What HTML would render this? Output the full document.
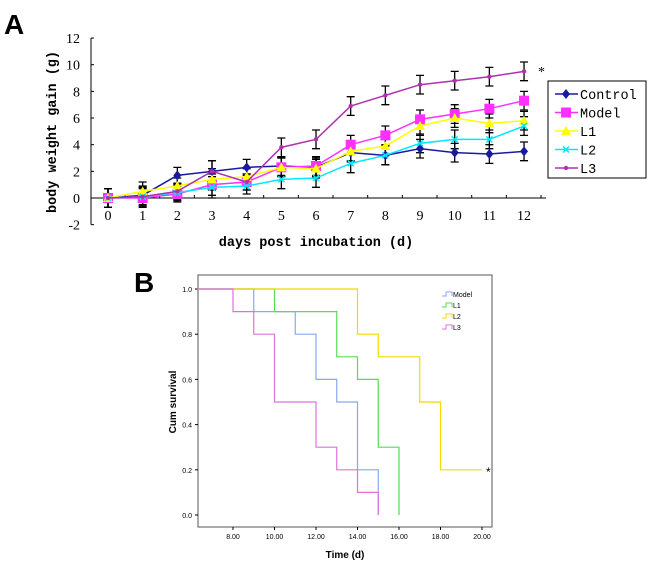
<!DOCTYPE html>
<html><head><meta charset="utf-8"><style>
body{margin:0;background:#fff;width:650px;height:567px;overflow:hidden}
svg{display:block}
</style></head><body>
<svg id="c" width="650" height="567" xmlns="http://www.w3.org/2000/svg" font-family="Liberation Serif, serif">
<text x="4" y="34" font-family="Liberation Sans, sans-serif" font-weight="bold" font-size="28">A</text>
<text x="134" y="292" font-family="Liberation Sans, sans-serif" font-weight="bold" font-size="28">B</text>
<g id="ga"></g>
<g id="gb"></g>
</svg>
<script>
const daysA=[0,1,2,3,4,5,6,7,8,9,10,11,12];
const yTicksA=[-2,0,2,4,6,8,10,12];
const seriesNamesA=["Control","Model","L1","L2","L3"];
const controlVals=[0,0.2,1.7,2.0,2.3,2.4,2.3,3.4,3.2,3.7,3.4,3.3,3.5];
const modelVals=[0,0,0.3,1.0,1.2,2.3,2.4,4.0,4.7,5.9,6.3,6.7,7.3];
const l1Vals=[0,0.5,0.9,1.4,1.6,2.3,2.2,3.5,3.9,5.4,6.0,5.6,5.8];
const l2Vals=[0,0.1,0.4,0.8,0.9,1.4,1.5,2.6,3.2,4.1,4.4,4.4,5.4];
const l3Vals=[0,0.1,0.5,2.0,1.2,3.8,4.4,6.9,7.7,8.5,8.8,9.1,9.5];
const errVals=[0.7,0.7,0.6,0.8,0.6,0.7,0.7,0.7,0.7,0.7,0.7,0.7,0.7];
const colorsA=["#1a1aa0","#ff30ff","#ffff00","#00e8ff","#b030b0"];

const xTicksB=[8,10,12,14,16,18,20];
const xTickLabelsB=["8.00","10.00","12.00","14.00","16.00","18.00","20.00"];
const yTicksB=[0,0.2,0.4,0.6,0.8,1.0];
const namesB=["Model","L1","L2","L3"];
const modelT=[9,11,12,13,14,15];const modelS=[1.0,0.9,0.8,0.6,0.5,0.2,0];
const l1T=[10,13,14,15,16];const l1S=[1.0,0.9,0.7,0.6,0.3,0];
const l2T=[14,15,17,18];const l2S=[1.0,0.8,0.7,0.5,0.2];
const l3T=[8,9,10,12,13,14,15];const l3S=[1.0,0.9,0.8,0.5,0.3,0.2,0.1,0];
const colorsB=["#88a8f0","#55dd55","#f5d800","#e070e0"];

const NS="http://www.w3.org/2000/svg";
function mk(p,t,a,txt){const e=document.createElementNS(NS,t);for(const k in a)e.setAttribute(k,a[k]);if(txt!=null)e.textContent=txt;p.appendChild(e);return e;}

// Chart A
const ga=document.getElementById('ga');
const xA=d=>108+d*34.67, yA=v=>198-v*13.33;
let ax=mk(ga,'line',{x1:91,y1:yA(12),x2:91,y2:yA(-2),stroke:'#000'});


ax=mk(ga,'line',{x1:91,y1:yA(0),x2:546,y2:yA(0),stroke:'#000'});


yTicksA.forEach(v=>{mk(ga,'line',{x1:91,y1:yA(v),x2:94,y2:yA(v),stroke:'#000'});
 const t=mk(ga,'text',{x:80,y:yA(v)+5,'text-anchor':'end','font-size':14},v);
 
 });
daysA.forEach(d=>{mk(ga,'line',{x1:xA(d)+17,y1:yA(0),x2:xA(d)+17,y2:yA(0)-3,stroke:'#000'});
 const t=mk(ga,'text',{x:xA(d),y:yA(0)+22,'text-anchor':'middle','font-size':14},d);
 
 });
let lab=mk(ga,'text',{x:316,y:246,'text-anchor':'middle','font-size':13.5,'font-weight':'bold','font-family':'Liberation Mono, monospace'},'days post incubation (d)');


lab=mk(ga,'text',{x:0,y:0,transform:'translate(56,132) rotate(-90)','text-anchor':'middle','font-size':13.5,'font-weight':'bold','font-family':'Liberation Mono, monospace'},'body weight gain (g)');


const allA=[controlVals,modelVals,l1Vals,l2Vals,l3Vals];
allA.forEach((vals,si)=>{
 vals.forEach((v,i)=>{const x=xA(i),e=errVals[i];
  mk(ga,'path',{d:`M${x},${yA(v+e)}V${yA(v-e)}M${x-4},${yA(v+e)}H${x+4}M${x-4},${yA(v-e)}H${x+4}`,stroke:'#000','stroke-width':1.3,fill:'none'});});
});
function marker(p,si,x,y){
 if(si==0)return mk(p,'path',{d:`M${x},${y-5}L${x+4},${y}L${x},${y+5}L${x-4},${y}Z`,fill:colorsA[0]});
 if(si==1)return mk(p,'rect',{x:x-5,y:y-5,width:10,height:10,fill:colorsA[1]});
 if(si==2)return mk(p,'path',{d:`M${x},${y-5}L${x+5},${y+4}L${x-5},${y+4}Z`,fill:colorsA[2]});
 if(si==3)return mk(p,'path',{d:`M${x-3},${y-3}L${x+3},${y+3}M${x+3},${y-3}L${x-3},${y+3}`,stroke:colorsA[3],'stroke-width':1.5});
 return mk(p,'circle',{cx:x,cy:y,r:2.2,fill:colorsA[4]});
}
allA.forEach((vals,si)=>{
 const pl=mk(ga,'polyline',{points:vals.map((v,i)=>xA(i)+','+yA(v)).join(' '),fill:'none',stroke:colorsA[si],'stroke-width':1.5});
 
 
 vals.forEach((v,i)=>marker(ga,si,xA(i),yA(v)));
});
mk(ga,'text',{x:538,y:76,'font-size':14},'*');
const lg=mk(ga,'g',{});


mk(lg,'rect',{x:548,y:81,width:98,height:97,fill:'#fff',stroke:'#000'});
seriesNamesA.forEach((n,i)=>{const y=94+i*18.5;
 mk(lg,'line',{x1:555,y1:y,x2:578,y2:y,stroke:colorsA[i],'stroke-width':1.5});marker(lg,i,566,y);
 const t=mk(lg,'text',{x:580,y:y+5,'font-size':13.5,'font-family':'Liberation Mono, monospace'},n);
 
 });

// Chart B
const gb=document.getElementById('gb');
const xB=d=>233+(d-8)*20.75, yB=v=>515-v*226;
mk(gb,'rect',{x:198,y:275,width:294,height:252,fill:'none',stroke:'#555'});
yTicksB.forEach(v=>{mk(gb,'line',{x1:195,y1:yB(v),x2:198,y2:yB(v),stroke:'#000'});
 const t=mk(gb,'text',{x:192,y:yB(v)+3,'text-anchor':'end','font-size':7,'font-family':'Liberation Sans, sans-serif'},v.toFixed(1));
 
 });
xTicksB.forEach((d,i)=>{mk(gb,'line',{x1:xB(d),y1:527,x2:xB(d),y2:530,stroke:'#000'});
 const t=mk(gb,'text',{x:xB(d),y:539,'text-anchor':'middle','font-size':7,'font-family':'Liberation Sans, sans-serif'},xTickLabelsB[i]);
 
 });
lab=mk(gb,'text',{x:345,y:558,'text-anchor':'middle','font-size':10,'font-weight':'bold','font-family':'Liberation Sans, sans-serif'},'Time (d)');


lab=mk(gb,'text',{x:0,y:0,transform:'translate(176,402) rotate(-90)','text-anchor':'middle','font-size':10,'font-weight':'bold','font-family':'Liberation Sans, sans-serif'},'Cum survival');


const allB=[[modelT,modelS,15],[l1T,l1S,16],[l2T,l2S,20],[l3T,l3S,15]];
allB.forEach(([T,S,end],si)=>{
 let d=`M${xB(6.3)},${yB(S[0])}`;
 T.forEach((t,i)=>{d+=`H${xB(t)}V${yB(S[i+1])}`;});
 if(xB(T[T.length-1])<xB(end)) d+=`H${xB(end)}`;
 const p=mk(gb,'path',{d:d,fill:'none',stroke:colorsB[si],'stroke-width':1.2});
 
 
});
mk(gb,'text',{x:486,y:yB(0.2)+6,'font-size':12,'font-family':'Liberation Sans, sans-serif'},'*');
namesB.forEach((n,i)=>{const y=294+i*11;
 mk(gb,'path',{d:`M442,${y+2}H446V${y-2}H452V${y+2}`,fill:'none',stroke:colorsB[i]});
 const t=mk(gb,'text',{x:453,y:y+3,'font-size':7,'font-family':'Liberation Sans, sans-serif'},n);
 
 });
</script>
</body></html>
